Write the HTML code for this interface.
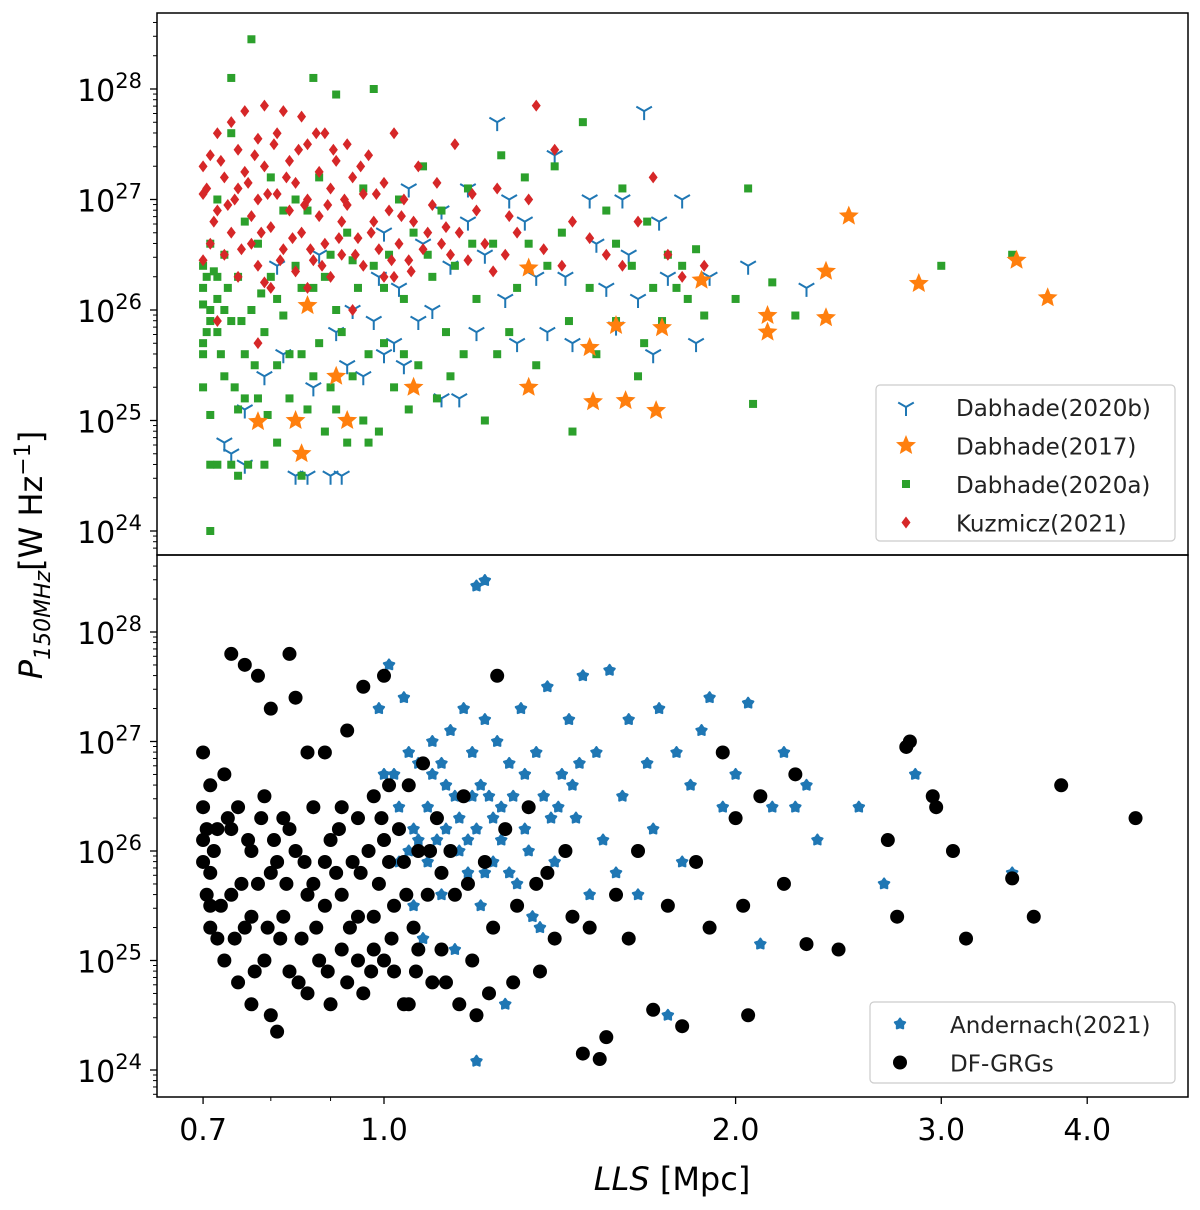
<!DOCTYPE html>
<html><head><meta charset="utf-8"><style>
html,body{margin:0;padding:0;background:#fff;}
svg{display:block;font-family:"DejaVu Sans","Liberation Sans",sans-serif;}
</style></head><body>
<svg id="chart" width="1200" height="1210" viewBox="0 0 1200 1210">
<g id="top-marks"></g>
<g id="bot-marks"></g>
<g id="axes"></g>
</svg>
<script>
const xTicks=[0.7,1.0,2.0,3.0,4.0];
const xTickLabels=["0.7","1.0","2.0","3.0","4.0"];
const yExps=[24,25,26,27,28];
const kuzmicz=[[0.70,27.3],[0.70,27.05],[0.71,27.4],[0.72,27.6],[0.72,26.9],[0.73,27.2],[0.73,26.5],[0.74,27.7],[0.74,26.7],[0.75,27.45],[0.75,27.1],[0.75,26.3],[0.76,27.8],[0.76,27.25],[0.77,26.85],[0.77,26.6],[0.78,27.55],[0.78,27.0],[0.78,26.4],[0.79,27.85],[0.79,27.3],[0.80,26.75],[0.80,26.2],[0.81,27.6],[0.81,27.05],[0.82,27.8],[0.82,26.55],[0.83,27.35],[0.83,26.9],[0.84,27.15],[0.84,26.35],[0.85,27.75],[0.85,26.7],[0.86,27.5],[0.86,27.0],[0.87,26.45],[0.88,27.25],[0.88,26.85],[0.89,27.6],[0.89,26.6],[0.90,27.1],[0.90,26.3],[0.91,27.35],[0.92,26.8],[0.92,26.5],[0.93,27.5],[0.93,26.95],[0.94,27.2],[0.95,26.65],[0.96,27.05],[0.96,26.4],[0.97,27.4],[0.98,26.8],[0.99,26.55],[1.00,27.15],[1.00,26.3],[1.01,26.9],[1.02,27.6],[1.03,26.6],[1.04,27.0],[1.05,26.45],[1.06,26.8],[1.07,27.3],[1.08,26.55],[1.10,26.95],[1.11,27.15],[1.12,26.6],[1.13,26.75],[1.15,27.5],[1.16,26.7],[1.18,26.45],[1.20,26.9],[1.22,26.6],[1.25,27.1],[1.27,26.5],[1.30,26.7],[1.33,27.0],[1.35,27.85],[1.37,26.55],[1.40,27.45],[1.45,26.8],[1.50,26.65],[1.60,26.4],[1.70,27.2],[1.75,26.5],[1.88,26.4],[0.72,25.9],[0.71,26.6],[0.70,26.45],[0.78,25.7],[0.86,26.2],[0.94,26.0],[0.79,26.25],[1.02,26.3],
[0.705,27.1],[0.715,26.8],[0.725,27.35],[0.735,26.95],[0.745,27.0],[0.755,26.55],[0.765,27.15],[0.775,27.4],[0.785,26.7],[0.795,27.05],[0.805,27.5],[0.815,26.45],[0.825,27.2],[0.835,26.65],[0.845,27.45],[0.855,26.95],[0.865,26.55],[0.875,27.6],[0.885,26.4],[0.895,26.95],[0.905,27.45],[0.915,26.65],[0.925,27.0],[0.945,26.5],[0.955,27.3],[0.975,26.7],[0.985,27.05],[1.015,26.45],[1.035,26.85],[1.055,26.35],[1.09,26.7],[1.14,26.5],[1.19,27.05],[1.24,26.35],[1.28,26.85],[1.42,26.4],[1.55,26.5],[1.65,26.8],[1.80,26.3]];
const dab2020a=[[0.70,26.2],[0.70,25.6],[0.70,25.3],[0.70,26.4],[0.71,24.0],[0.71,25.05],[0.71,24.6],[0.71,26.0],[0.71,26.6],[0.72,24.6],[0.72,25.8],[0.72,26.1],[0.72,27.0],[0.73,25.4],[0.73,26.5],[0.74,28.1],[0.74,25.9],[0.74,27.6],[0.75,24.5],[0.75,26.3],[0.75,25.1],[0.76,26.8],[0.76,25.6],[0.77,28.45],[0.77,26.0],[0.78,25.2],[0.78,26.6],[0.79,24.6],[0.79,25.8],[0.80,27.2],[0.80,26.3],[0.81,25.5],[0.81,24.8],[0.82,26.9],[0.82,25.95],[0.83,25.2],[0.84,27.0],[0.84,26.4],[0.85,24.5],[0.85,25.6],[0.86,26.9],[0.86,25.1],[0.87,28.1],[0.87,26.2],[0.88,27.2],[0.88,25.7],[0.89,24.9],[0.90,26.5],[0.90,25.3],[0.91,27.95],[0.91,26.0],[0.92,25.8],[0.93,24.8],[0.93,26.7],[0.94,25.4],[0.95,26.2],[0.96,25.0],[0.96,27.1],[0.97,25.6],[0.98,28.0],[0.98,26.4],[0.99,24.9],[1.00,25.7],[1.01,26.5],[1.02,25.3],[1.03,27.0],[1.04,26.1],[1.05,25.1],[1.06,26.7],[1.07,25.5],[1.08,27.3],[1.10,26.3],[1.11,25.2],[1.12,26.9],[1.13,25.8],[1.15,26.4],[1.17,25.6],[1.18,27.1],[1.20,26.1],[1.22,25.0],[1.24,26.6],[1.26,27.4],[1.28,25.8],[1.30,26.2],[1.32,27.2],[1.35,25.5],[1.38,26.4],[1.40,27.3],[1.42,26.7],[1.45,24.9],[1.48,27.7],[1.50,26.2],[1.52,25.6],[1.55,26.9],[1.58,25.9],[1.60,27.1],[1.63,26.4],[1.65,25.4],[1.68,26.8],[1.70,26.2],[1.73,25.9],[1.75,26.5],[1.80,26.4],[1.82,26.1],[1.85,26.55],[1.88,25.95],[2.00,26.1],[2.05,27.1],[2.07,25.15],[2.15,26.25],[2.25,25.95],[3.45,26.5],[3.00,26.4],[0.70,25.7],[0.71,25.9],[0.72,26.3],[0.70,26.05],[0.73,26.0],[0.74,24.6],[0.76,25.2],
[0.705,26.3],[0.705,25.8],[0.715,26.35],[0.725,25.6],[0.735,26.2],[0.745,25.3],[0.755,25.9],[0.765,24.6],[0.775,25.5],[0.785,26.15],[0.795,25.05],[0.81,26.1],[0.83,25.6],[0.85,26.2],[0.87,25.4],[0.89,26.3],[0.91,25.1],[0.94,26.45],[0.97,24.8],[1.00,26.2],[1.04,25.6],[1.09,26.5],[1.14,25.4],[1.19,26.6],[1.25,25.6],[1.33,26.6],[1.44,25.9],[1.58,26.6],[1.67,25.7],[1.78,26.2]];
const dab2020b=[[0.73,24.8],[0.74,24.7],[0.76,24.6],[0.76,25.1],[0.79,25.4],[0.81,26.4],[0.82,25.6],[0.84,24.5],[0.86,24.5],[0.87,25.3],[0.88,26.5],[0.90,24.5],[0.91,25.8],[0.92,24.5],[0.93,25.5],[0.94,26.0],[0.96,25.4],[0.98,25.9],[1.00,26.7],[1.00,25.6],[1.02,25.7],[1.03,26.2],[1.04,25.5],[1.05,27.1],[1.07,25.9],[1.08,26.6],[1.10,26.0],[1.12,25.2],[1.14,26.4],[1.16,25.2],[1.18,27.1],[1.20,25.8],[1.22,26.5],[1.25,27.7],[1.27,26.1],[1.30,25.7],[1.32,26.8],[1.35,26.3],[1.38,25.8],[1.40,27.4],[1.43,26.3],[1.45,25.7],[1.50,27.0],[1.52,26.6],[1.55,26.2],[1.58,25.85],[1.60,27.0],[1.62,26.5],[1.65,26.1],[1.67,27.8],[1.70,25.6],[1.72,26.8],[1.75,26.3],[1.80,27.0],[1.85,25.7],[1.90,26.3],[2.05,26.4],[2.30,26.2],[1.18,26.8],[1.28,27.0],[0.99,26.3],[1.12,26.9]];
const dab2017=[[0.78,24.99],[0.84,25.0],[0.85,24.7],[0.86,26.04],[0.91,25.4],[0.93,25.0],[1.06,25.3],[1.33,26.38],[1.33,25.3],[1.50,25.66],[1.51,25.17],[1.58,25.86],[1.61,25.18],[1.71,25.09],[1.73,25.84],[1.87,26.27],[2.13,25.95],[2.13,25.8],[2.39,26.35],[2.39,25.93],[2.50,26.85],[2.87,26.24],[3.48,26.45],[3.70,26.11]];
const dfgrg=[[0.70,26.9],[0.70,26.4],[0.70,25.9],[0.70,26.1],[0.71,25.5],[0.71,26.6],[0.71,25.8],[0.72,25.2],[0.72,26.2],[0.73,25.0],[0.73,26.7],[0.74,27.8],[0.74,25.6],[0.75,24.8],[0.75,26.4],[0.76,25.3],[0.76,27.7],[0.77,26.0],[0.77,24.6],[0.78,25.7],[0.78,27.6],[0.79,26.5],[0.79,25.0],[0.80,24.5],[0.80,27.3],[0.81,25.9],[0.81,24.35],[0.82,26.3],[0.82,25.4],[0.83,27.8],[0.83,24.9],[0.84,27.4],[0.84,26.0],[0.85,25.2],[0.86,26.9],[0.86,24.7],[0.87,25.7],[0.87,26.4],[0.88,25.0],[0.89,26.9],[0.89,25.5],[0.90,26.1],[0.90,24.6],[0.91,25.8],[0.92,26.4],[0.92,25.1],[0.93,27.1],[0.93,24.8],[0.94,25.9],[0.95,26.3],[0.95,25.4],[0.96,27.5],[0.96,24.7],[0.97,26.0],[0.98,25.1],[0.98,26.5],[0.99,25.7],[1.00,27.6],[1.00,26.1],[1.00,25.0],[1.01,26.6],[1.02,25.5],[1.02,24.9],[1.03,26.2],[1.04,25.9],[1.05,26.6],[1.05,24.6],[1.06,25.3],[1.07,26.0],[1.08,26.8],[1.09,25.6],[1.10,24.8],[1.11,26.3],[1.12,25.1],[1.14,26.0],[1.15,25.6],[1.16,24.6],[1.17,26.5],[1.19,25.0],[1.20,24.5],[1.22,25.9],[1.24,25.3],[1.25,27.6],[1.27,26.2],[1.29,24.8],[1.30,25.5],[1.33,26.4],[1.36,24.9],[1.38,25.8],[1.40,25.2],[1.43,26.0],[1.45,25.4],[1.48,24.15],[1.50,25.3],[1.53,24.1],[1.55,24.3],[1.58,25.6],[1.62,25.2],[1.65,26.0],[1.70,24.55],[1.75,25.5],[1.80,24.4],[1.85,25.9],[1.90,25.3],[1.95,26.9],[2.00,26.3],[2.03,25.5],[2.05,24.5],[2.10,26.5],[2.20,25.7],[2.25,26.7],[2.30,25.15],[2.45,25.1],[2.70,26.1],[2.75,25.4],[2.80,26.95],[2.82,27.0],[2.95,26.5],[2.97,26.4],[3.07,26.0],[3.15,25.2],[3.45,25.75],[3.60,25.4],[3.80,26.6],[4.40,26.3],[0.71,25.3],[0.74,26.2],[0.77,25.4],[0.80,25.8],[0.83,26.2],[0.86,25.6],[0.89,25.9],[0.92,25.6],[0.95,25.0],[0.98,25.4],[1.01,25.9],[1.04,24.6],[1.07,25.1],[1.12,25.8],
[0.705,26.2],[0.705,25.6],[0.715,26.0],[0.725,25.5],[0.735,26.3],[0.745,25.2],[0.755,25.7],[0.765,26.1],[0.775,24.9],[0.785,26.3],[0.795,25.3],[0.805,26.1],[0.815,25.2],[0.825,25.7],[0.845,24.8],[0.855,25.9],[0.875,25.3],[0.895,24.9],[0.915,26.2],[0.935,25.3],[0.955,25.8],[0.975,24.9],[0.995,26.3],[1.015,25.2],[1.045,25.6],[1.065,24.9],[1.095,26.0],[1.13,24.8],[1.18,25.7],[1.23,24.7],[1.35,25.7]];
const andernach=[[1.20,28.42],[1.22,28.47],[1.20,24.08],[0.99,27.3],[1.01,27.7],[1.02,26.7],[1.04,27.4],[1.05,26.0],[1.06,25.5],[1.07,26.8],[1.08,25.2],[1.09,26.4],[1.10,27.0],[1.11,26.1],[1.12,25.6],[1.13,26.6],[1.14,27.1],[1.15,25.1],[1.16,26.3],[1.17,27.3],[1.18,25.8],[1.19,26.9],[1.20,26.2],[1.21,25.5],[1.22,27.2],[1.23,26.5],[1.24,25.9],[1.25,27.0],[1.26,26.4],[1.27,24.6],[1.28,26.8],[1.30,25.7],[1.31,27.3],[1.32,26.2],[1.34,25.4],[1.35,26.9],[1.37,26.5],[1.38,27.5],[1.40,25.9],[1.42,26.7],[1.44,27.2],[1.46,26.3],[1.48,27.6],[1.50,25.6],[1.52,26.9],[1.54,26.1],[1.56,27.65],[1.58,25.8],[1.60,26.5],[1.62,27.2],[1.65,25.6],[1.68,26.8],[1.70,26.2],[1.72,27.3],[1.75,24.5],[1.78,26.9],[1.80,25.9],[1.83,26.6],[1.87,27.1],[1.90,27.4],[1.95,26.4],[2.00,26.7],[2.05,27.35],[2.10,25.15],[2.15,26.4],[2.20,26.9],[2.25,26.4],[2.30,26.6],[2.35,26.1],[2.55,26.4],[2.68,25.7],[2.85,26.7],[3.45,25.8],[1.03,25.9],[1.06,26.2],[1.09,25.9],[1.12,26.8],[1.15,26.5],[1.18,26.1],[1.21,26.6],[1.24,26.3],[1.28,25.8],[1.33,26.0],[1.36,25.3],[1.41,26.4],[1.47,26.8],
[1.00,26.7],[1.03,26.4],[1.05,26.9],[1.07,26.1],[1.10,26.7],[1.13,26.2],[1.16,26.0],[1.19,26.5],[1.22,25.8],[1.26,26.1],[1.29,26.5],[1.32,26.7],[1.39,26.3],[1.45,26.6]];

const NS='http://www.w3.org/2000/svg';
const L=157,R=1188,T1=13,B1=555,T2=555,B2=1097;
function xs(v){return 384+1168*Math.log10(v);}
function ysTop(e){return 89+(28-e)*110.5;}
function ysBot(e){return 632+(28-e)*109.5;}
function mk(tag,attrs,parent){const el=document.createElementNS(NS,tag);for(const k in attrs)el.setAttribute(k,attrs[k]);parent.appendChild(el);return el;}
const topG=document.getElementById('top-marks'),botG=document.getElementById('bot-marks'),ax=document.getElementById('axes');
function starPts(cx,cy,r,inner){let p=[];for(let i=0;i<10;i++){const a=-Math.PI/2+i*Math.PI/5;const rr=i%2?r*inner:r;p.push((cx+rr*Math.cos(a)).toFixed(1)+','+(cy+rr*Math.sin(a)).toFixed(1));}return p.join(' ');}
function drawSquare(g,x,y){const el=mk('rect',{x:x-4,y:y-4,width:8,height:8,fill:'#2ca02c'},g);}
function drawDiamond(g,x,y){const el=mk('polygon',{points:`${x},${y-6} ${x+4.5},${y} ${x},${y+6} ${x-4.5},${y}`,fill:'#d62728'},g);}
function drawTri(g,x,y){const r=9;const el=mk('path',{d:`M${x},${y}L${x},${y+r}M${x},${y}L${x-0.866*r},${y-0.5*r}M${x},${y}L${x+0.866*r},${y-0.5*r}`,stroke:'#1f77b4','stroke-width':2,fill:'none'},g);}
function drawStar(g,x,y){const el=mk('polygon',{points:starPts(x,y,10.5,0.45),fill:'#ff7f0e'},g);}
function drawCircle(g,x,y){const el=mk('circle',{cx:x,cy:y,r:7,fill:'#000'},g);}
function drawAst(g,x,y){const el=mk('polygon',{points:starPts(x,y,5.5,0.6),fill:'#1f77b4',stroke:'#1f77b4','stroke-width':2,'stroke-linejoin':'round'},g);}
dab2020b.forEach(d=>drawTri(topG,xs(d[0]),ysTop(d[1])));
dab2020a.forEach(d=>drawSquare(topG,xs(d[0]),ysTop(d[1])));
kuzmicz.forEach(d=>drawDiamond(topG,xs(d[0]),ysTop(d[1])));
dab2017.forEach(d=>drawStar(topG,xs(d[0]),ysTop(d[1])));
andernach.forEach(d=>drawAst(botG,xs(d[0]),ysBot(d[1])));
dfgrg.forEach(d=>drawCircle(botG,xs(d[0]),ysBot(d[1])));
let f=mk('rect',{x:L,y:T1,width:R-L,height:B1-T1,fill:'none',stroke:'#000','stroke-width':1.5},ax);
f=mk('rect',{x:L,y:T2,width:R-L,height:B2-T2,fill:'none',stroke:'#000','stroke-width':1.5},ax);
function yAxis(ysf,ymin,ymax,name){
  for(let e=23;e<=28;e++){for(let m=1;m<=9;m++){const v=e+Math.log10(m);const y=ysf(v);if(y<ymin||y>ymax)continue;mk('line',{x1:L,x2:L-(m==1?7:4),y1:y,y2:y,stroke:'#000','stroke-width':m==1?1.3:1},ax);}}
  yExps.forEach(e=>{const y=ysf(e);const t=mk('text',{x:142,y:y+12,'text-anchor':'end','font-size':30,fill:'#000'},ax);t.textContent='10';const s=document.createElementNS(NS,'tspan');s.setAttribute('dy',-13);s.setAttribute('font-size',21);s.textContent=e;t.appendChild(s);});
}
yAxis(ysTop,T1+1,B1-1,'top-y');yAxis(ysBot,T2+1,B2-1,'bottom-y');
const xMinor=[0.8,0.9];
xMinor.forEach(v=>{const x=xs(v);mk('line',{x1:x,x2:x,y1:B2,y2:B2+4,stroke:'#000','stroke-width':1},ax);});
xTicks.forEach((v,i)=>{const x=xs(v);mk('line',{x1:x,x2:x,y1:B2,y2:B2+7,stroke:'#000','stroke-width':1.3},ax);const t=mk('text',{x:x,y:1140,'text-anchor':'middle','font-size':30,fill:'#000'},ax);t.textContent=xTickLabels[i];});
let xt=mk('text',{x:672,y:1190,'text-anchor':'middle','font-size':32,fill:'#000'},ax);
xt.innerHTML='<tspan font-style="italic">LLS</tspan> [Mpc]';
let yt=mk('text',{x:0,y:0,'text-anchor':'middle','font-size':32,fill:'#000',transform:'translate(42,555) rotate(-90)'},ax);
yt.innerHTML='<tspan font-style="italic">P</tspan><tspan font-style="italic" font-size="22" dy="8">150MHz</tspan><tspan dy="-8">[W Hz</tspan><tspan font-size="22" dy="-12">−1</tspan><tspan dy="12">]</tspan>';
function legend(x,y,w,h,entries,name){const g=mk('g',{},ax);
  mk('rect',{x:x,y:y,width:w,height:h,rx:4,fill:'#fff',stroke:'#ccc','stroke-width':1.2},g);
  entries.forEach((en,i)=>{const cy=y+22+i*38.5;const eg=mk('g',{},g);en[1](eg,x+30,cy);const t=mk('text',{x:x+80,y:cy+9,'font-size':23,fill:'#222'},eg);t.textContent=en[0];});}
legend(876,385,299,156,[['Dabhade(2020b)',drawTri],['Dabhade(2017)',drawStar],['Dabhade(2020a)',drawSquare],['Kuzmicz(2021)',drawDiamond]],'top-legend');
legend(870,1002,305,81,[['Andernach(2021)',drawAst],['DF-GRGs',drawCircle]],'bottom-legend');
</script>
</body></html>
